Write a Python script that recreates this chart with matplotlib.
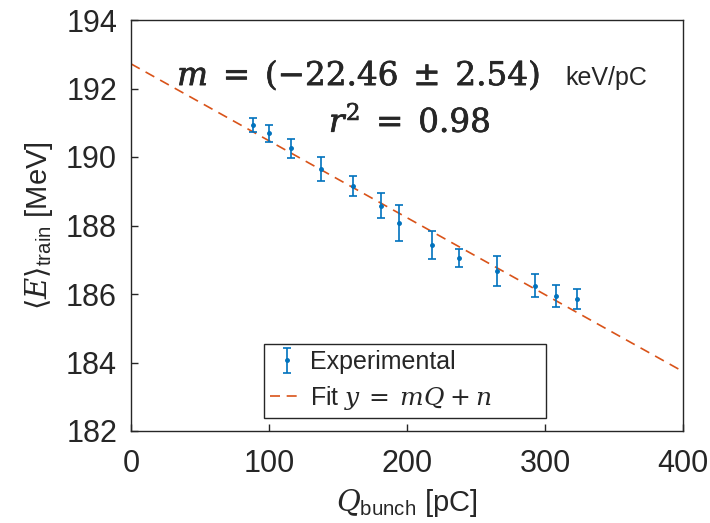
import matplotlib
matplotlib.use("Agg")
import matplotlib.pyplot as plt
import matplotlib.patheffects as pe
import numpy as np

plt.rcParams['font.family'] = ['Liberation Sans', 'DejaVu Sans']
plt.rcParams['mathtext.fontset'] = 'custom'
plt.rcParams['mathtext.rm'] = 'DejaVu Serif'
plt.rcParams['mathtext.it'] = 'DejaVu Serif:italic'
plt.rcParams['mathtext.bf'] = 'DejaVu Serif:bold'
plt.rcParams['mathtext.sf'] = 'Liberation Sans'

# Data
charge_pc = [88.6, 100.2, 115.7, 137.5, 160.9, 180.9, 194.4, 218.3, 237.9, 265.0, 292.8, 308.0, 323.0]
energy_mev = [190.93, 190.69, 190.25, 189.65, 189.15, 188.58, 188.08, 187.43, 187.04, 186.67, 186.24, 185.94, 185.86]
energy_err = [0.20, 0.24, 0.27, 0.35, 0.29, 0.36, 0.53, 0.40, 0.26, 0.45, 0.34, 0.32, 0.29]
fit_slope = -0.02246   # MeV/pC
fit_intercept = 192.72  # MeV
fit_x = [0, 400]

x_ticks = [0, 100, 200, 300, 400]
y_ticks = [182, 184, 186, 188, 190, 192, 194]

fig = plt.figure(figsize=(7.1, 5.23), dpi=100)
ax = fig.add_axes([131/710, 1-431/523, (683-131)/710, (431-20)/523])

blue = '#0072BD'
orange = '#D95319'
grey = '#262626'
medium = [pe.withStroke(linewidth=0.5, foreground=grey)]

fx = np.array(fit_x, dtype=float)
ax.plot(fx, fit_intercept + fit_slope*fx, '--', color=orange, lw=1.2,
        dashes=(6, 4), label=r'Fit $y\:=\:mQ\:+\:n$', zorder=2)
ax.errorbar(charge_pc, energy_mev, yerr=energy_err, fmt='.', color=blue,
            ms=5, capsize=3, elinewidth=1.2, capthick=1.2,
            label='Experimental', zorder=3)

ax.set_xlim(0, 400)
ax.set_ylim(182, 194)
ax.set_xticks(x_ticks)
ax.set_yticks(y_ticks)
ax.tick_params(direction='in', labelsize=22, colors=grey, length=5, width=1,
               top=False, right=False)
ax.tick_params(axis='x', pad=13)
ax.tick_params(axis='y', pad=10)
for s in ax.spines.values():
    s.set_color(grey)
    s.set_linewidth(1.0)

ax.set_xlabel(r'$Q_{\mathsf{bunch}}$ [pC]', fontsize=21, color=grey, labelpad=6)
ax.set_ylabel(r'$\langle E \rangle_{\mathsf{train}}$ [MeV]', fontsize=21,
              color=grey, labelpad=8)

ax.text(296.4, 192.10, r'$m\;=\;(-22.46\;\pm\;2.54)$',
        ha='right', va='baseline', fontsize=23.5, color=grey, path_effects=medium)
ax.text(314.5, 192.10, 'keV/pC', ha='left', va='baseline', fontsize=18, color=grey)
ax.text(202, 190.73, r'$r^2\;=\;0.98$', ha='center', va='baseline', fontsize=23.5,
        color=grey, path_effects=medium)

handles, labels = ax.get_legend_handles_labels()
leg = ax.legend(handles[::-1], labels[::-1], loc='lower left',
                bbox_to_anchor=((264-131)/552, (431-418)/411, (546-264)/552, 71/411),
                mode='expand', borderaxespad=0, fontsize=18,
                frameon=True, fancybox=False, edgecolor=grey, framealpha=1,
                handlelength=1.3, handletextpad=0.3, borderpad=0.25, labelspacing=0.4)
leg.get_frame().set_linewidth(1.0)
for t in leg.get_texts():
    t.set_color(grey)

fig.savefig('out.png', dpi=100)
